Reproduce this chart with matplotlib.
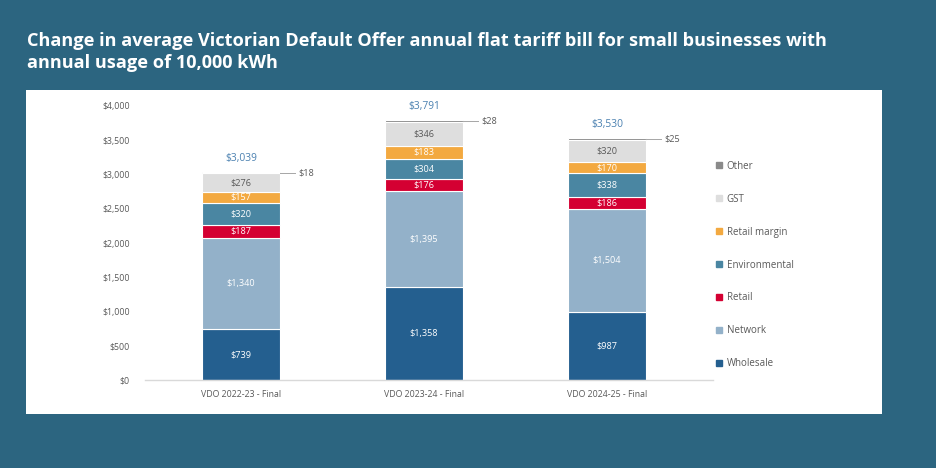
import matplotlib
matplotlib.use("Agg")
import matplotlib.pyplot as plt
from matplotlib.patches import Rectangle
from matplotlib.lines import Line2D

categories = ["VDO 2022-23 - Final", "VDO 2023-24 - Final", "VDO 2024-25 - Final"]
series_names = ["Wholesale", "Network", "Retail", "Environmental", "Retail margin", "GST", "Other"]
wholesale = [739, 1358, 987]
network = [1340, 1395, 1504]
retail = [187, 176, 186]
environmental = [320, 304, 338]
retail_margin = [157, 183, 170]
gst = [276, 346, 320]
other = [18, 28, 25]
totals = [3039, 3791, 3530]
yticks = [0, 500, 1000, 1500, 2000, 2500, 3000, 3500, 4000]

colors = ["#245f8f", "#93b1c9", "#d40032", "#4a86a2", "#f3a940", "#dedede", "#8a8a8a"]
text_colors = ["white", "white", "white", "white", "white", "#595959", "#595959"]
series = [wholesale, network, retail, environmental, retail_margin, gst, other]

BG = "#2c6580"
W, H = 936, 468
fig = plt.figure(figsize=(W / 100, H / 100), dpi=100, facecolor=BG)

# white panel
fig.patches.append(Rectangle((26 / W, 1 - 414 / H), (882 - 26) / W, (414 - 90) / H,
                             transform=fig.transFigure, facecolor="white", edgecolor="none", zorder=-5))

fig.text(27 / W, 1 - 52 / H, "Change in average Victorian Default Offer annual flat tariff bill for small businesses with\nannual usage of 10,000 kWh",
         color="white", fontsize=13.1, fontweight="bold", family="Open Sans", va="center", ha="left",
         linespacing=1.25)

ax = fig.add_axes([145 / W, 1 - 380 / H, (713 - 145) / W, (380 - 106) / H], zorder=2)
ax.set_facecolor("none")
x = list(range(len(categories)))
width = 0.43
bottoms = [0, 0, 0]
for name, vals, c, tc in zip(series_names, series, colors, text_colors):
    ax.bar(x, vals, width, bottom=bottoms, color=c, edgecolor="white", linewidth=0.8, label=name, zorder=2)
    for i, v in enumerate(vals):
        if name != "Other":
            ax.text(x[i], bottoms[i] + v / 2, f"${v:,}", ha="center", va="center", color=tc,
                    fontsize=6.6, family="Open Sans", zorder=3)
    bottoms = [b + v for b, v in zip(bottoms, vals)]

# other labels with leader lines
for i, v in enumerate(other):
    top = bottoms[i] - v / 2
    ax.plot([x[i] + width / 2, x[i] + width / 2 + 0.08], [top, top], color="#a6a6a6", lw=0.7, clip_on=False, zorder=3)
    ax.text(x[i] + width / 2 + 0.1, top, f"${v:,}", ha="left", va="center", color="#595959",
            fontsize=6.6, family="Open Sans", clip_on=False)

for i, t in enumerate(totals):
    ax.text(x[i], bottoms[i] + 200, f"${t:,}", ha="center", va="center", color="#4a80b0",
            fontsize=7.4, family="Open Sans", clip_on=False)

ax.set_ylim(0, 4000)
ax.set_xlim(-0.525, 2.58)
ax.set_yticks(yticks)
ax.set_yticklabels([f"${v:,}" for v in yticks])
ax.set_xticks(x)
ax.set_xticklabels(categories)
for s in ["top", "right", "left"]:
    ax.spines[s].set_visible(False)
ax.spines["bottom"].set_color("#d9d9d9")
ax.spines["bottom"].set_linewidth(1.0)
ax.tick_params(axis="both", length=0, colors="#595959", labelsize=6.3)
ax.tick_params(axis="y", pad=11)
ax.tick_params(axis="x", pad=7)
for lab in ax.get_xticklabels() + ax.get_yticklabels():
    lab.set_family("Open Sans")

handles = [Line2D([], [], marker="s", linestyle="none", markersize=4.5, markerfacecolor=c, markeredgecolor=c)
           for c in colors]
leg = fig.legend(handles[::-1], series_names[::-1], loc="upper left",
                 bbox_to_anchor=(712 / W, 1 - 157 / H), frameon=False,
                 prop={"family": "Open Sans", "size": 7}, labelcolor="#595959",
                 labelspacing=2.25, handlelength=0.6, handletextpad=0.5, borderaxespad=0)

fig.savefig("out.png", dpi=100, facecolor=BG)
